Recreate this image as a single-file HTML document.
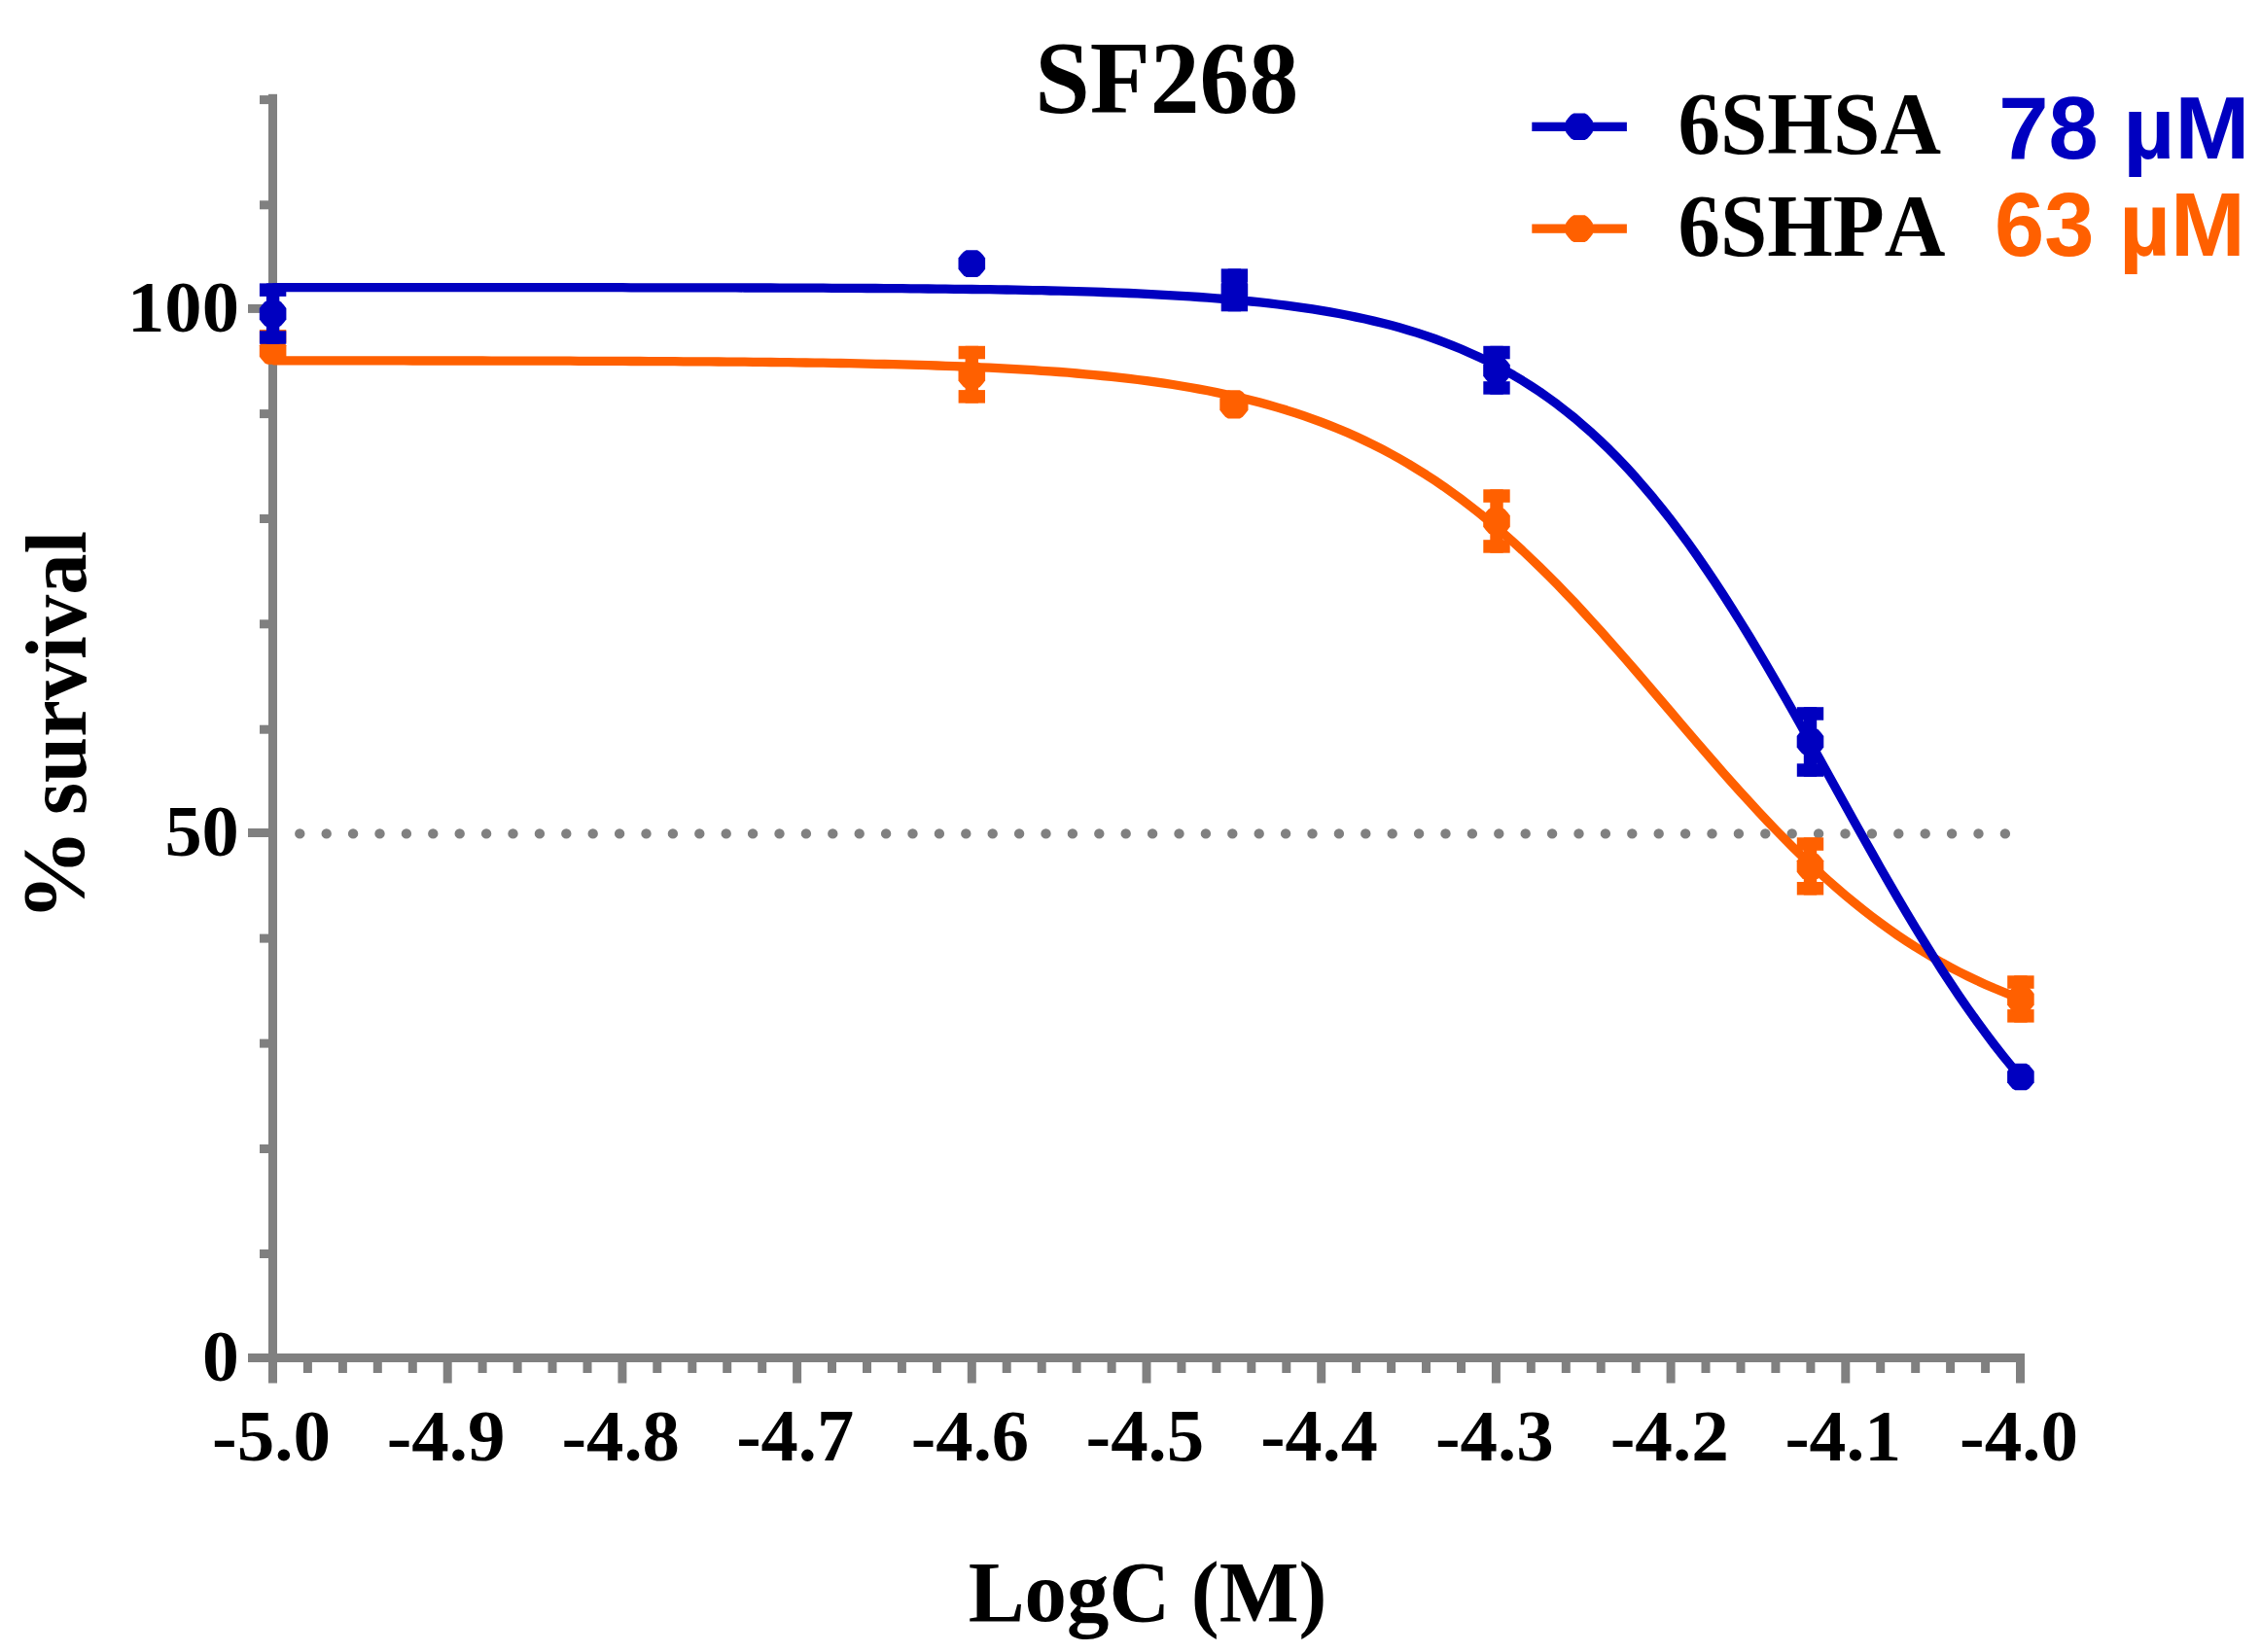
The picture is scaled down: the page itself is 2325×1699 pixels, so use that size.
<!DOCTYPE html>
<html lang="en"><head><meta charset="utf-8"><title>SF268</title>
<style>html,body{margin:0;padding:0;background:#fff}svg{display:block}text{font-weight:bold;font-kerning:none}</style></head>
<body>
<svg width="2325" height="1699" viewBox="0 0 2325 1699">
<rect width="2325" height="1699" fill="#fff"/>
<g fill="#808080"><rect x="276" y="96.8" width="9" height="1304.2"/><rect x="276" y="1392" width="1806.0" height="9"/><rect x="255" y="1392.0" width="22" height="9"/><rect x="267" y="1285.0" width="10" height="9"/><rect x="267" y="1177.0" width="10" height="9"/><rect x="267" y="1068.6" width="10" height="9"/><rect x="267" y="960.6" width="10" height="9"/><rect x="255" y="852.0" width="22" height="9"/><rect x="267" y="745.7" width="10" height="9"/><rect x="267" y="637.3" width="10" height="9"/><rect x="267" y="529.0" width="10" height="9"/><rect x="267" y="421.1" width="10" height="9"/><rect x="255" y="312.9" width="22" height="9"/><rect x="267" y="206.3" width="10" height="9"/><rect x="267" y="98.1" width="10" height="9"/><rect x="276.0" y="1400" width="9" height="22.5"/><rect x="311.9" y="1400" width="9" height="12"/><rect x="347.9" y="1400" width="9" height="12"/><rect x="383.8" y="1400" width="9" height="12"/><rect x="419.8" y="1400" width="9" height="12"/><rect x="455.7" y="1400" width="9" height="22.5"/><rect x="491.6" y="1400" width="9" height="12"/><rect x="527.6" y="1400" width="9" height="12"/><rect x="563.5" y="1400" width="9" height="12"/><rect x="599.5" y="1400" width="9" height="12"/><rect x="635.4" y="1400" width="9" height="22.5"/><rect x="671.3" y="1400" width="9" height="12"/><rect x="707.3" y="1400" width="9" height="12"/><rect x="743.2" y="1400" width="9" height="12"/><rect x="779.2" y="1400" width="9" height="12"/><rect x="815.1" y="1400" width="9" height="22.5"/><rect x="851.0" y="1400" width="9" height="12"/><rect x="887.0" y="1400" width="9" height="12"/><rect x="922.9" y="1400" width="9" height="12"/><rect x="958.9" y="1400" width="9" height="12"/><rect x="994.8" y="1400" width="9" height="22.5"/><rect x="1030.7" y="1400" width="9" height="12"/><rect x="1066.7" y="1400" width="9" height="12"/><rect x="1102.6" y="1400" width="9" height="12"/><rect x="1138.6" y="1400" width="9" height="12"/><rect x="1174.5" y="1400" width="9" height="22.5"/><rect x="1210.4" y="1400" width="9" height="12"/><rect x="1246.4" y="1400" width="9" height="12"/><rect x="1282.3" y="1400" width="9" height="12"/><rect x="1318.3" y="1400" width="9" height="12"/><rect x="1354.2" y="1400" width="9" height="22.5"/><rect x="1390.1" y="1400" width="9" height="12"/><rect x="1426.1" y="1400" width="9" height="12"/><rect x="1462.0" y="1400" width="9" height="12"/><rect x="1498.0" y="1400" width="9" height="12"/><rect x="1533.9" y="1400" width="9" height="22.5"/><rect x="1569.8" y="1400" width="9" height="12"/><rect x="1605.8" y="1400" width="9" height="12"/><rect x="1641.7" y="1400" width="9" height="12"/><rect x="1677.7" y="1400" width="9" height="12"/><rect x="1713.6" y="1400" width="9" height="22.5"/><rect x="1749.5" y="1400" width="9" height="12"/><rect x="1785.5" y="1400" width="9" height="12"/><rect x="1821.4" y="1400" width="9" height="12"/><rect x="1857.4" y="1400" width="9" height="12"/><rect x="1893.3" y="1400" width="9" height="22.5"/><rect x="1929.2" y="1400" width="9" height="12"/><rect x="1965.2" y="1400" width="9" height="12"/><rect x="2001.1" y="1400" width="9" height="12"/><rect x="2037.1" y="1400" width="9" height="12"/><rect x="2073.0" y="1400" width="9" height="22.5"/></g>
<line x1="308.3" y1="857.4" x2="2070" y2="857.4" stroke="#808080" stroke-width="10.4" stroke-linecap="round" stroke-dasharray="0 27.4"/>
<path d="M280.5 370.9 L289.5 370.9 L298.5 370.9 L307.5 370.9 L316.4 370.9 L325.4 370.9 L334.4 370.9 L343.4 370.9 L352.4 370.9 L361.4 370.9 L370.3 370.9 L379.3 370.9 L388.3 370.9 L397.3 370.9 L406.3 370.9 L415.3 370.9 L424.3 371.0 L433.2 371.0 L442.2 371.0 L451.2 371.0 L460.2 371.0 L469.2 371.0 L478.2 371.0 L487.2 371.0 L496.1 371.0 L505.1 371.1 L514.1 371.1 L523.1 371.1 L532.1 371.1 L541.1 371.1 L550.1 371.2 L559.0 371.2 L568.0 371.2 L577.0 371.2 L586.0 371.2 L595.0 371.3 L604.0 371.3 L612.9 371.3 L621.9 371.4 L630.9 371.4 L639.9 371.4 L648.9 371.5 L657.9 371.5 L666.9 371.6 L675.8 371.6 L684.8 371.7 L693.8 371.7 L702.8 371.8 L711.8 371.8 L720.8 371.9 L729.8 371.9 L738.7 372.0 L747.7 372.1 L756.7 372.2 L765.7 372.2 L774.7 372.3 L783.7 372.4 L792.6 372.5 L801.6 372.6 L810.6 372.7 L819.6 372.8 L828.6 373.0 L837.6 373.1 L846.6 373.2 L855.5 373.4 L864.5 373.5 L873.5 373.7 L882.5 373.9 L891.5 374.1 L900.5 374.3 L909.4 374.5 L918.4 374.7 L927.4 374.9 L936.4 375.2 L945.4 375.4 L954.4 375.7 L963.4 376.0 L972.3 376.3 L981.3 376.7 L990.3 377.0 L999.3 377.4 L1008.3 377.8 L1017.3 378.2 L1026.3 378.6 L1035.2 379.1 L1044.2 379.6 L1053.2 380.1 L1062.2 380.7 L1071.2 381.3 L1080.2 381.9 L1089.2 382.5 L1098.1 383.2 L1107.1 384.0 L1116.1 384.8 L1125.1 385.6 L1134.1 386.5 L1143.1 387.4 L1152.0 388.4 L1161.0 389.4 L1170.0 390.5 L1179.0 391.6 L1188.0 392.9 L1197.0 394.2 L1206.0 395.5 L1214.9 397.0 L1223.9 398.5 L1232.9 400.1 L1241.9 401.8 L1250.9 403.6 L1259.9 405.5 L1268.8 407.4 L1277.8 409.5 L1286.8 411.7 L1295.8 414.1 L1304.8 416.5 L1313.8 419.1 L1322.8 421.8 L1331.7 424.7 L1340.7 427.7 L1349.7 430.8 L1358.7 434.1 L1367.7 437.6 L1376.7 441.2 L1385.7 445.1 L1394.6 449.1 L1403.6 453.3 L1412.6 457.6 L1421.6 462.2 L1430.6 467.0 L1439.6 472.0 L1448.6 477.2 L1457.5 482.7 L1466.5 488.3 L1475.5 494.2 L1484.5 500.3 L1493.5 506.7 L1502.5 513.3 L1511.4 520.1 L1520.4 527.1 L1529.4 534.4 L1538.4 542.0 L1547.4 549.8 L1556.4 557.8 L1565.4 566.0 L1574.3 574.5 L1583.3 583.1 L1592.3 592.0 L1601.3 601.1 L1610.3 610.4 L1619.3 619.8 L1628.2 629.5 L1637.2 639.3 L1646.2 649.2 L1655.2 659.3 L1664.2 669.5 L1673.2 679.8 L1682.2 690.1 L1691.1 700.6 L1700.1 711.1 L1709.1 721.6 L1718.1 732.1 L1727.1 742.7 L1736.1 753.2 L1745.1 763.7 L1754.0 774.1 L1763.0 784.4 L1772.0 794.7 L1781.0 804.8 L1790.0 814.8 L1799.0 824.7 L1807.9 834.4 L1816.9 844.0 L1825.9 853.4 L1834.9 862.6 L1843.9 871.6 L1852.9 880.4 L1861.9 888.9 L1870.8 897.3 L1879.8 905.4 L1888.8 913.3 L1897.8 921.0 L1906.8 928.4 L1915.8 935.6 L1924.8 942.6 L1933.7 949.3 L1942.7 955.8 L1951.7 962.1 L1960.7 968.1 L1969.7 973.9 L1978.7 979.4 L1987.7 984.7 L1996.6 989.9 L2005.6 994.8 L2014.6 999.5 L2023.6 1004.0 L2032.6 1008.3 L2041.6 1012.4 L2050.5 1016.3 L2059.5 1020.0 L2068.5 1023.6 L2077.5 1027.0" fill="none" stroke="#ff6000" stroke-width="9.3" stroke-linejoin="round"/>
<path d="M280.5 295.6 L289.5 295.6 L298.5 295.6 L307.5 295.6 L316.4 295.6 L325.4 295.6 L334.4 295.6 L343.4 295.6 L352.4 295.6 L361.4 295.6 L370.3 295.6 L379.3 295.6 L388.3 295.6 L397.3 295.6 L406.3 295.6 L415.3 295.6 L424.3 295.6 L433.2 295.6 L442.2 295.6 L451.2 295.6 L460.2 295.6 L469.2 295.6 L478.2 295.6 L487.2 295.6 L496.1 295.6 L505.1 295.7 L514.1 295.7 L523.1 295.7 L532.1 295.7 L541.1 295.7 L550.1 295.7 L559.0 295.7 L568.0 295.7 L577.0 295.7 L586.0 295.7 L595.0 295.7 L604.0 295.7 L612.9 295.7 L621.9 295.7 L630.9 295.7 L639.9 295.7 L648.9 295.8 L657.9 295.8 L666.9 295.8 L675.8 295.8 L684.8 295.8 L693.8 295.8 L702.8 295.8 L711.8 295.8 L720.8 295.9 L729.8 295.9 L738.7 295.9 L747.7 295.9 L756.7 295.9 L765.7 296.0 L774.7 296.0 L783.7 296.0 L792.6 296.0 L801.6 296.1 L810.6 296.1 L819.6 296.1 L828.6 296.2 L837.6 296.2 L846.6 296.2 L855.5 296.3 L864.5 296.3 L873.5 296.4 L882.5 296.4 L891.5 296.5 L900.5 296.5 L909.4 296.6 L918.4 296.7 L927.4 296.7 L936.4 296.8 L945.4 296.9 L954.4 297.0 L963.4 297.1 L972.3 297.2 L981.3 297.3 L990.3 297.4 L999.3 297.5 L1008.3 297.6 L1017.3 297.7 L1026.3 297.9 L1035.2 298.0 L1044.2 298.2 L1053.2 298.4 L1062.2 298.6 L1071.2 298.7 L1080.2 299.0 L1089.2 299.2 L1098.1 299.4 L1107.1 299.7 L1116.1 299.9 L1125.1 300.2 L1134.1 300.5 L1143.1 300.8 L1152.0 301.2 L1161.0 301.5 L1170.0 301.9 L1179.0 302.3 L1188.0 302.8 L1197.0 303.3 L1206.0 303.8 L1214.9 304.3 L1223.9 304.9 L1232.9 305.5 L1241.9 306.1 L1250.9 306.8 L1259.9 307.5 L1268.8 308.3 L1277.8 309.1 L1286.8 310.0 L1295.8 310.9 L1304.8 311.9 L1313.8 313.0 L1322.8 314.1 L1331.7 315.3 L1340.7 316.6 L1349.7 317.9 L1358.7 319.4 L1367.7 320.9 L1376.7 322.5 L1385.7 324.2 L1394.6 326.1 L1403.6 328.0 L1412.6 330.1 L1421.6 332.3 L1430.6 334.6 L1439.6 337.1 L1448.6 339.7 L1457.5 342.4 L1466.5 345.4 L1475.5 348.5 L1484.5 351.8 L1493.5 355.3 L1502.5 359.0 L1511.4 362.9 L1520.4 367.0 L1529.4 371.3 L1538.4 375.9 L1547.4 380.8 L1556.4 385.9 L1565.4 391.3 L1574.3 397.0 L1583.3 402.9 L1592.3 409.2 L1601.3 415.8 L1610.3 422.8 L1619.3 430.0 L1628.2 437.7 L1637.2 445.6 L1646.2 454.0 L1655.2 462.7 L1664.2 471.8 L1673.2 481.3 L1682.2 491.2 L1691.1 501.5 L1700.1 512.1 L1709.1 523.2 L1718.1 534.7 L1727.1 546.6 L1736.1 558.8 L1745.1 571.5 L1754.0 584.5 L1763.0 597.9 L1772.0 611.6 L1781.0 625.7 L1790.0 640.1 L1799.0 654.7 L1807.9 669.7 L1816.9 684.9 L1825.9 700.4 L1834.9 716.0 L1843.9 731.8 L1852.9 747.8 L1861.9 763.9 L1870.8 780.1 L1879.8 796.3 L1888.8 812.5 L1897.8 828.7 L1906.8 844.9 L1915.8 861.0 L1924.8 876.9 L1933.7 892.8 L1942.7 908.4 L1951.7 923.9 L1960.7 939.1 L1969.7 954.1 L1978.7 968.7 L1987.7 983.1 L1996.6 997.2 L2005.6 1010.9 L2014.6 1024.3 L2023.6 1037.3 L2032.6 1050.0 L2041.6 1062.2 L2050.5 1074.1 L2059.5 1085.6 L2068.5 1096.6 L2077.5 1107.3" fill="none" stroke="#0000c0" stroke-width="9.3" stroke-linejoin="round"/>
<g fill="#ff6000" stroke="none"><rect x="273.9" y="339.1" width="13.4" height="21.9"/><rect x="266.9" y="339.1" width="27.4" height="13.5"/><polygon points="286.3,347.2 289.0,348.8 291.9,352.0 294.4,355.3 294.4,366.7 291.9,370.0 289.0,373.2 286.3,374.8 274.9,374.8 272.2,373.2 269.3,370.0 266.8,366.7 266.8,355.3 269.3,352.0 272.2,348.8 274.9,347.2"/><rect x="992.6" y="355.8" width="13.4" height="58.8"/><rect x="985.6" y="355.8" width="27.4" height="13.5"/><rect x="985.6" y="401.1" width="27.4" height="13.5"/><polygon points="1005.0,371.9 1007.7,373.5 1010.6,376.7 1013.1,380.0 1013.1,391.4 1010.6,394.7 1007.7,397.9 1005.0,399.5 993.6,399.5 990.9,397.9 988.0,394.7 985.5,391.4 985.5,380.0 988.0,376.7 990.9,373.5 993.6,371.9"/><polygon points="1274.9,401.2 1277.8,402.9 1280.8,406.3 1283.5,409.8 1283.5,421.8 1280.8,425.3 1277.8,428.7 1274.9,430.4 1262.9,430.4 1260.0,428.7 1257.0,425.3 1254.3,421.8 1254.3,409.8 1257.0,406.3 1260.0,402.9 1262.9,401.2"/><rect x="1532.3" y="503.3" width="13.4" height="65.4"/><rect x="1525.3" y="503.3" width="27.4" height="13.5"/><rect x="1525.3" y="555.2" width="27.4" height="13.5"/><polygon points="1544.7,522.2 1547.4,523.8 1550.3,527.0 1552.8,530.3 1552.8,541.7 1550.3,545.0 1547.4,548.2 1544.7,549.8 1533.3,549.8 1530.6,548.2 1527.7,545.0 1525.2,541.7 1525.2,530.3 1527.7,527.0 1530.6,523.8 1533.3,522.2"/><rect x="1854.8" y="861.3" width="13.4" height="59.2"/><rect x="1847.8" y="861.3" width="27.4" height="13.5"/><rect x="1847.8" y="907.0" width="27.4" height="13.5"/><polygon points="1867.2,877.2 1869.9,878.8 1872.8,882.0 1875.3,885.3 1875.3,896.7 1872.8,900.0 1869.9,903.2 1867.2,904.8 1855.8,904.8 1853.1,903.2 1850.2,900.0 1847.7,896.7 1847.7,885.3 1850.2,882.0 1853.1,878.8 1855.8,877.2"/><rect x="2071.2" y="1003.3" width="13.4" height="48.3"/><rect x="2064.2" y="1003.3" width="27.4" height="13.5"/><rect x="2064.2" y="1038.1" width="27.4" height="13.5"/><polygon points="2083.6,1013.9 2086.3,1015.5 2089.2,1018.7 2091.7,1022.0 2091.7,1033.4 2089.2,1036.7 2086.3,1039.9 2083.6,1041.5 2072.2,1041.5 2069.5,1039.9 2066.6,1036.7 2064.1,1033.4 2064.1,1022.0 2066.6,1018.7 2069.5,1015.5 2072.2,1013.9"/></g>
<g fill="#0000c0" stroke="none"><rect x="273.9" y="291.4" width="13.4" height="62.4"/><rect x="266.9" y="291.4" width="27.4" height="13.5"/><rect x="266.9" y="340.3" width="27.4" height="13.5"/><polygon points="286.3,308.9 289.0,310.5 291.9,313.7 294.4,317.0 294.4,328.4 291.9,331.7 289.0,334.9 286.3,336.5 274.9,336.5 272.2,334.9 269.3,331.7 266.8,328.4 266.8,317.0 269.3,313.7 272.2,310.5 274.9,308.9"/><polygon points="1005.0,257.2 1007.7,258.9 1010.6,262.1 1013.1,265.4 1013.1,276.8 1010.6,280.1 1007.7,283.2 1005.0,284.9 993.6,284.9 990.9,283.2 988.0,280.1 985.5,276.8 985.5,265.4 988.0,262.1 990.9,258.9 993.6,257.2"/><rect x="1262.7" y="276.4" width="13.4" height="43.9"/><rect x="1255.7" y="276.4" width="27.4" height="14.3"/><rect x="1255.7" y="303.4" width="27.4" height="16.9"/><polygon points="1275.1,283.7 1277.8,285.3 1280.7,288.5 1283.2,291.8 1283.2,303.2 1280.7,306.5 1277.8,309.7 1275.1,311.3 1263.7,311.3 1261.0,309.7 1258.1,306.5 1255.6,303.2 1255.6,291.8 1258.1,288.5 1261.0,285.3 1263.7,283.7"/><rect x="1532.3" y="355.8" width="13.4" height="49.9"/><rect x="1525.3" y="355.8" width="27.4" height="13.5"/><rect x="1525.3" y="392.2" width="27.4" height="13.5"/><polygon points="1544.7,367.2 1547.4,368.8 1550.3,372.0 1552.8,375.3 1552.8,386.7 1550.3,390.0 1547.4,393.2 1544.7,394.8 1533.3,394.8 1530.6,393.2 1527.7,390.0 1525.2,386.7 1525.2,375.3 1527.7,372.0 1530.6,368.8 1533.3,367.2"/><rect x="1854.8" y="727.2" width="13.4" height="71.6"/><rect x="1847.8" y="727.2" width="27.4" height="13.5"/><rect x="1847.8" y="785.3" width="27.4" height="13.5"/><polygon points="1867.2,749.0 1869.9,750.6 1872.8,753.8 1875.3,757.1 1875.3,768.5 1872.8,771.8 1869.9,775.0 1867.2,776.6 1855.8,776.6 1853.1,775.0 1850.2,771.8 1847.7,768.5 1847.7,757.1 1850.2,753.8 1853.1,750.6 1855.8,749.0"/><polygon points="2083.6,1093.7 2086.3,1095.3 2089.2,1098.5 2091.7,1101.8 2091.7,1113.2 2089.2,1116.5 2086.3,1119.7 2083.6,1121.3 2072.2,1121.3 2069.5,1119.7 2066.6,1116.5 2064.1,1113.2 2064.1,1101.8 2066.6,1098.5 2069.5,1095.3 2072.2,1093.7"/></g>
<g fill="#0000c0"><rect x="1575.3" y="125.7" width="97.6" height="9.3"/><polygon points="1629.7,116.4 1632.4,118.0 1635.3,121.2 1637.8,124.5 1637.8,135.9 1635.3,139.2 1632.4,142.4 1629.7,144.0 1618.3,144.0 1615.6,142.4 1612.7,139.2 1610.2,135.9 1610.2,124.5 1612.7,121.2 1615.6,118.0 1618.3,116.4"/></g>
<g fill="#ff6000"><rect x="1575.3" y="230.5" width="97.6" height="9.3"/><polygon points="1629.7,221.3 1632.4,222.9 1635.3,226.1 1637.8,229.4 1637.8,240.8 1635.3,244.1 1632.4,247.3 1629.7,248.9 1618.3,248.9 1615.6,247.3 1612.7,244.1 1610.2,240.8 1610.2,229.4 1612.7,226.1 1615.6,222.9 1618.3,221.3"/></g>
<text transform="translate(1064.28 115.67) scale(0.9863 1.0345)" font-family='"Liberation Serif", serif' font-size="103" fill="#000">SF268</text>
<text transform="translate(131.09 341.45) scale(1.0347 1.0020)" font-family='"Liberation Serif", serif' font-size="74" fill="#000">100</text>
<text transform="translate(169.40 880.34) scale(1.0330 1.0080)" font-family='"Liberation Serif", serif' font-size="74" fill="#000">50</text>
<text transform="translate(207.89 1420.25) scale(1.0222 1.0020)" font-family='"Liberation Serif", serif' font-size="74" fill="#000">0</text>
<text transform="translate(995.74 1666.62) scale(0.9752 0.9865)" font-family='"Liberation Serif", serif' font-size="89" fill="#000">LogC (M)</text>
<text transform="translate(86.43 947.23) rotate(-90) scale(1.0629 1.0149)" font-family='"Liberation Serif", serif' font-size="89" fill="#000">%</text>
<text transform="translate(87.99 837.92) rotate(-90) scale(0.9525 1.0072)" font-family='"Liberation Serif", serif' font-size="89" fill="#000">survival</text>
<text transform="translate(1725.54 157.72) scale(0.9876 1.0441)" font-family='"Liberation Serif", serif' font-size="88" fill="#000">6SHSA</text>
<text transform="translate(1725.54 262.62) scale(0.9865 1.0424)" font-family='"Liberation Serif", serif' font-size="88" fill="#000">6SHPA</text>
<text transform="translate(2055.22 162.85) scale(1.0355 1.0298)" font-family='"Liberation Sans", sans-serif' font-size="89" fill="#0000c0">78 µM</text>
<text transform="translate(2051.04 263.17) scale(1.0342 1.0341)" font-family='"Liberation Sans", sans-serif' font-size="89" fill="#ff6000">63 µM</text>
<text transform="translate(218.03 1502.49) scale(1.0422 1.0070)" font-family='"Liberation Serif", serif' font-size="74" fill="#000">-5.0</text>
<text transform="translate(397.74 1502.49) scale(1.0398 1.0120)" font-family='"Liberation Serif", serif' font-size="74" fill="#000">-4.9</text>
<text transform="translate(577.45 1502.49) scale(1.0375 1.0070)" font-family='"Liberation Serif", serif' font-size="74" fill="#000">-4.8</text>
<text transform="translate(757.16 1502.48) scale(1.0329 1.0171)" font-family='"Liberation Serif", serif' font-size="74" fill="#000">-4.7</text>
<text transform="translate(936.85 1502.49) scale(1.0352 1.0120)" font-family='"Liberation Serif", serif' font-size="74" fill="#000">-4.6</text>
<text transform="translate(1116.54 1502.48) scale(1.0398 1.0171)" font-family='"Liberation Serif", serif' font-size="74" fill="#000">-4.5</text>
<text transform="translate(1296.27 1502.48) scale(1.0283 1.0171)" font-family='"Liberation Serif", serif' font-size="74" fill="#000">-4.4</text>
<text transform="translate(1475.94 1502.49) scale(1.0398 1.0120)" font-family='"Liberation Serif", serif' font-size="74" fill="#000">-4.3</text>
<text transform="translate(1655.63 1502.49) scale(1.0445 1.0120)" font-family='"Liberation Serif", serif' font-size="74" fill="#000">-4.2</text>
<text transform="translate(1835.39 1502.49) scale(1.0226 1.0120)" font-family='"Liberation Serif", serif' font-size="74" fill="#000">-4.1</text>
<text transform="translate(2015.03 1502.49) scale(1.0422 1.0070)" font-family='"Liberation Serif", serif' font-size="74" fill="#000">-4.0</text>
</svg></body></html>
